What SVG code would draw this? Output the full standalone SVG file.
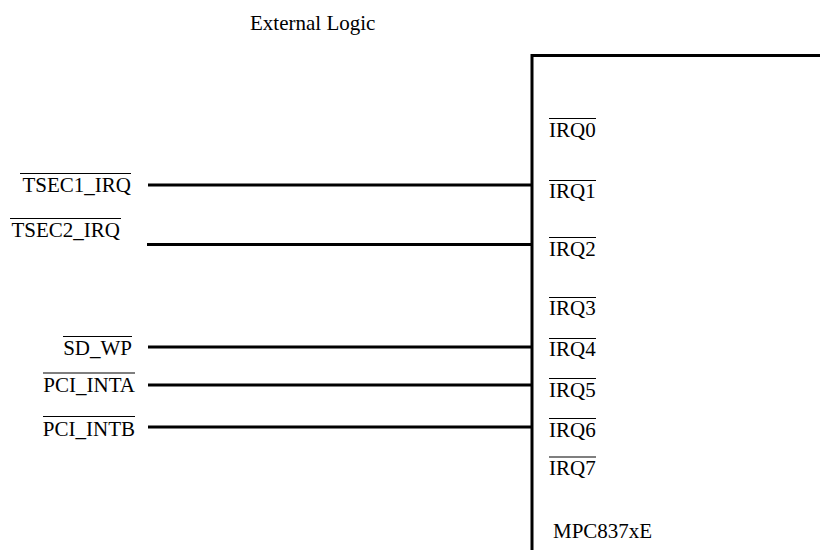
<svg xmlns="http://www.w3.org/2000/svg" width="820" height="550" viewBox="0 0 820 550">
<style>
.t{font-family:'Liberation Serif','Times New Roman',serif;font-size:21px;fill:#000}
.ov{stroke:#000;stroke-width:1.2}
.w{stroke:#000;stroke-width:3;fill:none}
.r{text-anchor:end}
</style>
<rect width="820" height="550" fill="#fff"/>
<g class="t">
<text id="title" x="250" y="30">External Logic</text>
<g id="mpc837xe">
<path class="w" d="M532 550 V55.5 H820"/>
<text x="553" y="538">MPC837xE</text>
</g>
<g id="irq-pins">
<g id="irq0"><text x="549" y="137">IRQ0</text><line class="ov" x1="549" y1="118.5" x2="596" y2="118.5"/></g>
<g id="irq1"><text x="549" y="198">IRQ1</text><line class="ov" x1="549" y1="180.5" x2="596" y2="180.5"/></g>
<g id="irq2"><text x="549" y="255.5">IRQ2</text><line class="ov" x1="549" y1="237.5" x2="596" y2="237.5"/></g>
<g id="irq3"><text x="549" y="315">IRQ3</text><line class="ov" x1="549" y1="297.5" x2="596" y2="297.5"/></g>
<g id="irq4"><text x="549" y="356">IRQ4</text><line class="ov" x1="549" y1="338.5" x2="596" y2="338.5"/></g>
<g id="irq5"><text x="549" y="396.5">IRQ5</text><line class="ov" x1="549" y1="378.5" x2="596" y2="378.5"/></g>
<g id="irq6"><text x="549" y="436.5">IRQ6</text><line class="ov" x1="549" y1="418.5" x2="596" y2="418.5"/></g>
<g id="irq7"><text x="549" y="475">IRQ7</text><line class="ov" x1="549" y1="457" x2="596" y2="457"/></g>
</g>
<g id="tsec1"><text class="r" x="131" y="192">TSEC1_IRQ</text><line class="ov" x1="20" y1="173.5" x2="131" y2="173.5"/></g>
<g id="tsec2"><text class="r" x="120" y="236.5">TSEC2_IRQ</text><line class="ov" x1="10" y1="218.5" x2="121" y2="218.5"/></g>
<g id="sdwp"><text class="r" x="132" y="355">SD_WP</text><line class="ov" x1="63" y1="336.5" x2="132" y2="336.5"/></g>
<g id="pciinta"><text class="r" x="135" y="391.5">PCI_INTA</text><line class="ov" x1="43" y1="373" x2="135" y2="373"/></g>
<g id="pciintb"><text class="r" x="135" y="435.5">PCI_INTB</text><line class="ov" x1="43" y1="416.5" x2="135" y2="416.5"/></g>
</g>
<g id="connectors">
<line class="w" x1="148" y1="185" x2="532" y2="185"/>
<line class="w" x1="147" y1="244.5" x2="532" y2="244.5"/>
<line class="w" x1="148" y1="347" x2="532" y2="347"/>
<line class="w" x1="148" y1="385" x2="532" y2="385"/>
<line class="w" x1="148" y1="427" x2="532" y2="427"/>
</g>
</svg>
